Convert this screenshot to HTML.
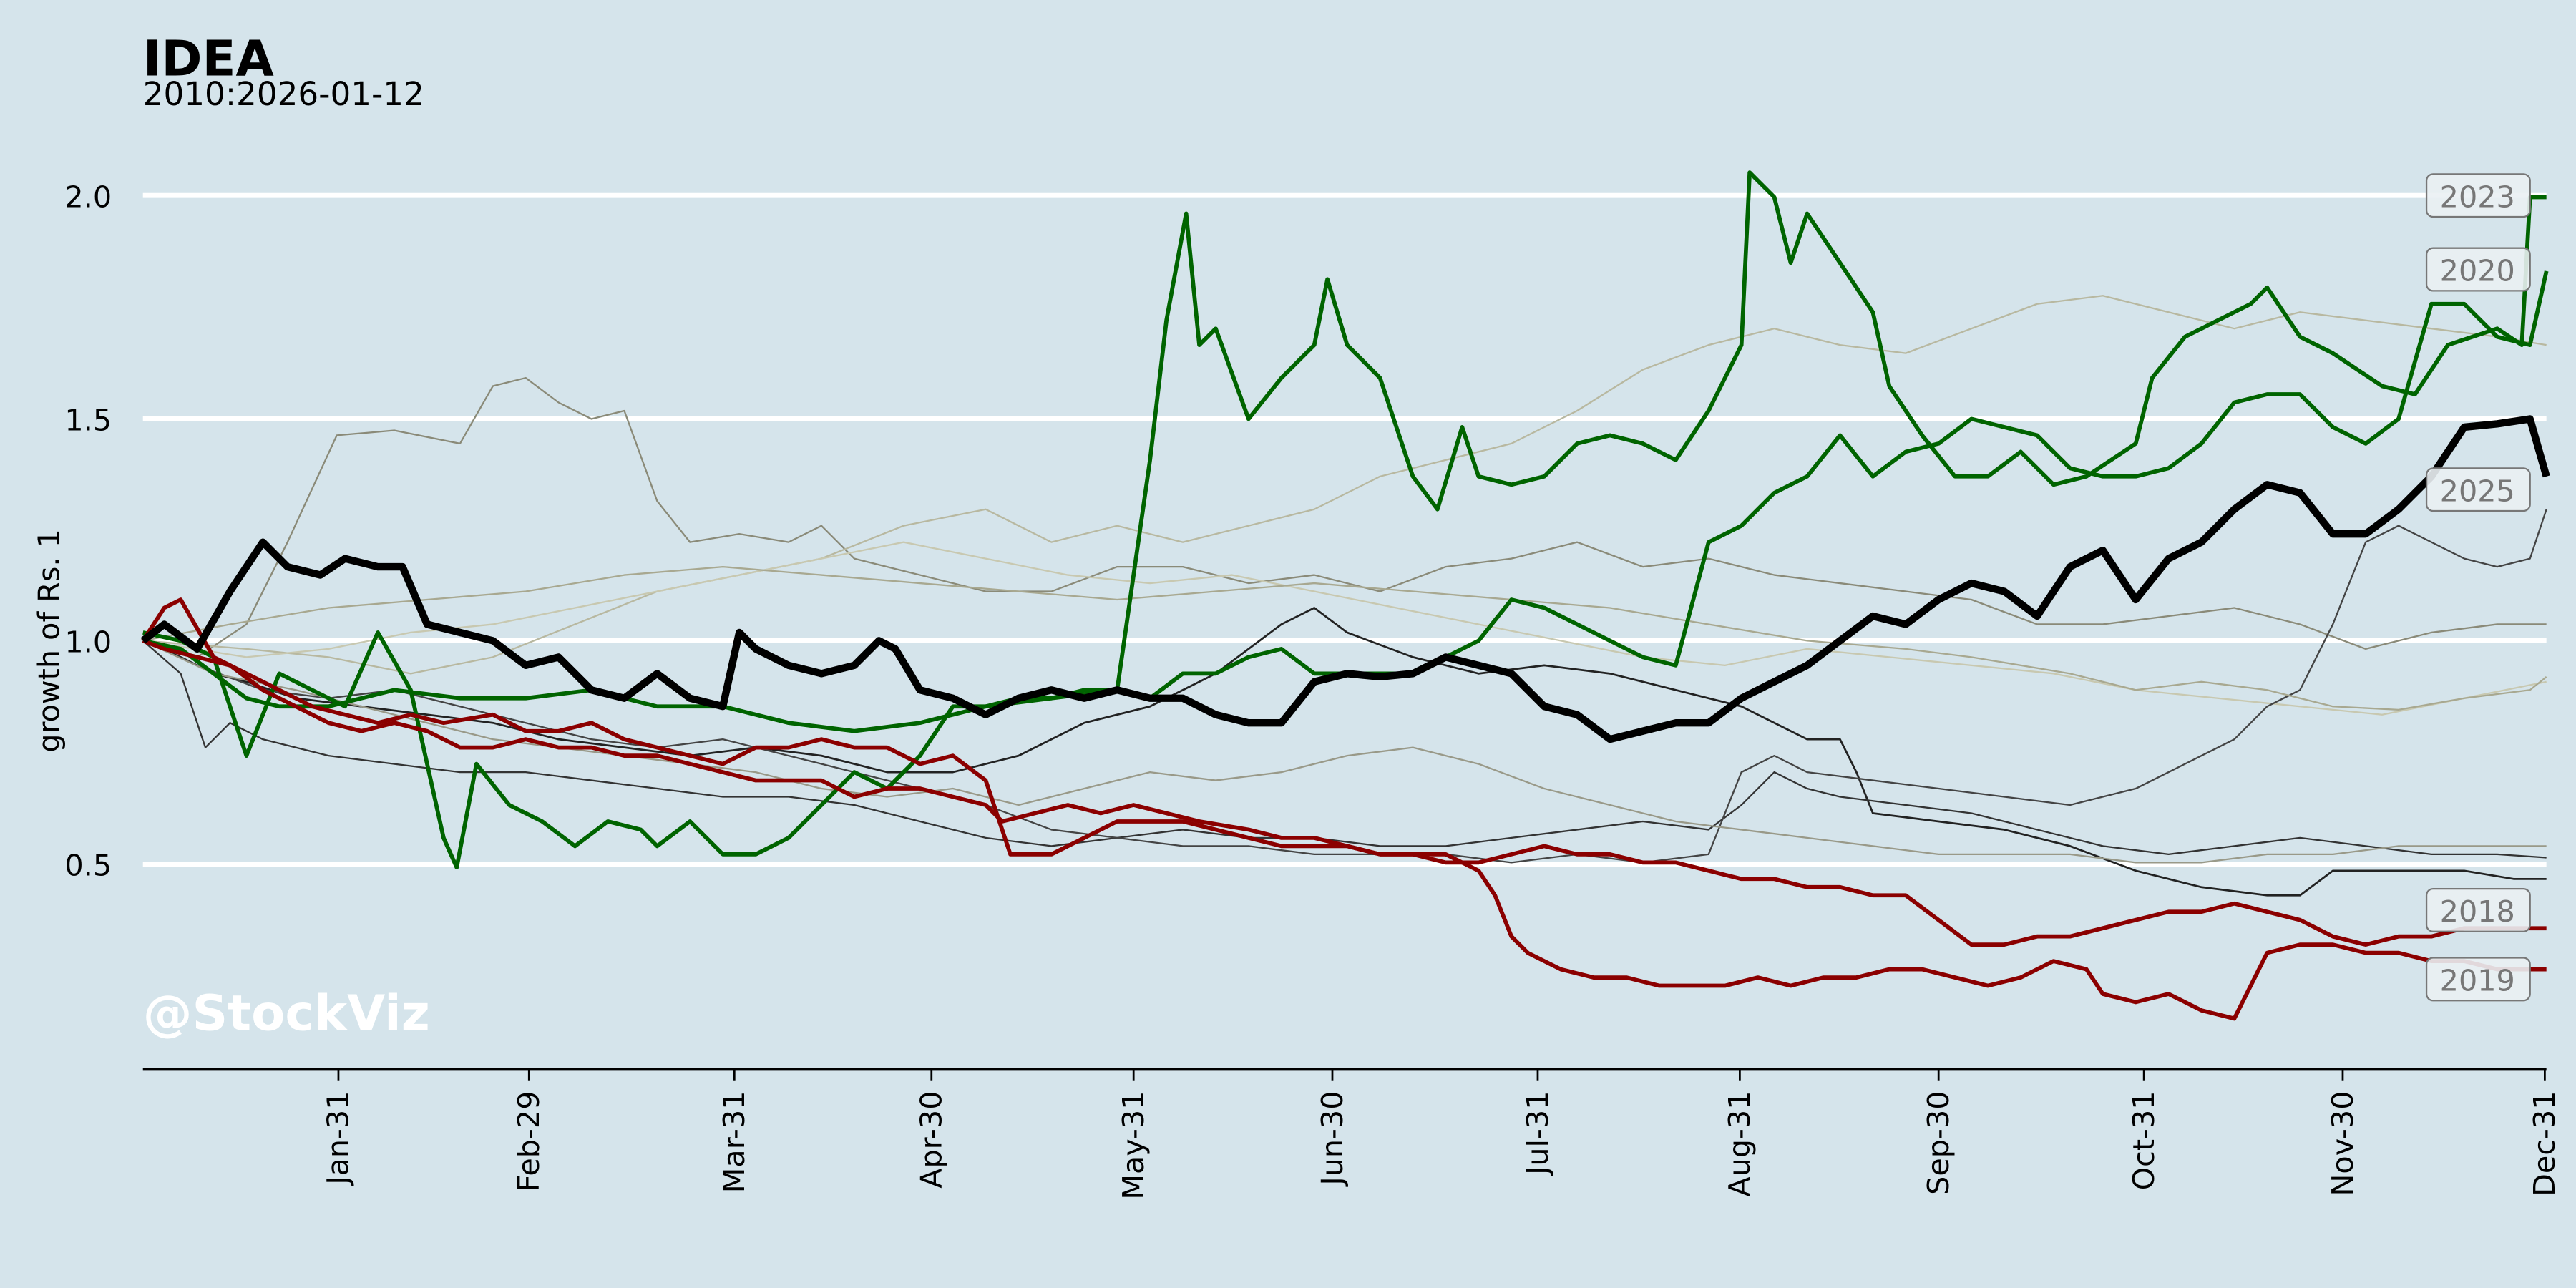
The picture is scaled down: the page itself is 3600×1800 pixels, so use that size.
<!DOCTYPE html>
<html><head><meta charset="utf-8"><style>
html,body{margin:0;padding:0;background:#d5e4eb;}
svg{display:block;font-family:"DejaVu Sans","Liberation Sans",sans-serif;}
</style></head><body>
<svg width="3600" height="1800" viewBox="0 0 1568 784" xmlns="http://www.w3.org/2000/svg">
<rect width="1568" height="784" fill="#d5e4eb"/>
<text x="87" y="46" font-size="30" font-weight="bold">IDEA</text>
<text x="87" y="64" font-size="19.7">2010:2026-01-12</text>
<g stroke="#fff" stroke-width="3">
<line x1="87" y1="119" x2="1550" y2="119"/><line x1="87" y1="255" x2="1550" y2="255"/>
<line x1="87" y1="390" x2="1550" y2="390"/><line x1="87" y1="526" x2="1550" y2="526"/>
</g>
<g font-size="18" text-anchor="end"><text x="68" y="126">2.0</text><text x="68" y="262">1.5</text><text x="68" y="397">1.0</text><text x="68" y="533">0.5</text></g>
<text transform="translate(36,390) rotate(-90)" font-size="18" text-anchor="middle">growth of Rs. 1</text>
<text x="87" y="627" font-size="30" font-weight="bold" fill="#fff">@StockViz</text>
<g fill="none" stroke-linejoin="round">
<polyline stroke="#8a8a78" stroke-width="1" points="87,390 120,400 150,380 175,330 205,265 240,262 280,270 300,235 320,230 340,245 360,255 380,250 400,305 420,330 450,325 480,330 500,320 520,340 560,350 600,360 640,360 680,345 720,345 760,355 800,350 840,360 880,345 920,340 960,330 1000,345 1040,340 1080,350 1120,355 1160,360 1200,365 1240,380 1280,380 1320,375 1360,370 1400,380 1440,395 1480,385 1520,380 1550,380"/>
<polyline stroke="#b8b8a0" stroke-width="1" points="87,390 150,395 200,400 250,410 300,400 350,380 400,360 450,350 500,340 550,320 600,310 640,330 680,320 720,330 760,320 800,310 840,290 880,280 920,270 960,250 1000,225 1040,210 1080,200 1120,210 1160,215 1200,200 1240,185 1280,180 1320,190 1360,200 1400,190 1440,195 1480,200 1520,205 1550,210"/>
<polyline stroke="#c8c8b0" stroke-width="1" points="87,390 150,400 200,395 250,385 300,380 350,370 400,360 450,350 500,340 550,330 600,340 650,350 700,355 750,350 800,360 850,370 900,380 950,390 1000,400 1050,405 1100,395 1150,400 1200,405 1250,410 1300,420 1350,425 1400,430 1450,435 1500,425 1550,415"/>
<polyline stroke="#222" stroke-width="1.2" points="87,390 110,400 130,410 150,415 180,425 220,430 260,435 300,440 340,450 380,455 420,460 460,455 500,460 540,470 580,470 620,460 660,440 700,430 740,410 780,380 800,370 820,385 860,400 900,410 940,405 980,410 1020,420 1060,430 1100,450 1120,450 1130,470 1140,495 1180,500 1220,505 1260,515 1300,530 1340,540 1380,545 1400,545 1420,530 1460,530 1500,530 1530,535 1550,535"/>
<polyline stroke="#333" stroke-width="1" points="87,390 110,410 125,455 140,440 160,450 200,460 240,465 280,470 320,470 360,475 400,480 440,485 480,485 520,490 560,500 600,510 640,515 680,510 720,505 760,510 800,510 840,515 880,515 920,510 960,505 1000,500 1040,505 1060,490 1080,470 1100,480 1120,485 1160,490 1200,495 1240,505 1280,515 1320,520 1360,515 1400,510 1440,515 1480,520 1520,520 1550,522"/>
<polyline stroke="#444" stroke-width="1" points="87,390 120,405 160,420 200,425 240,420 280,430 320,440 360,450 400,455 440,450 480,460 520,470 560,480 600,490 640,505 680,510 720,515 760,515 800,520 840,520 880,520 920,525 960,520 1000,525 1040,520 1060,470 1080,460 1100,470 1140,475 1180,480 1220,485 1260,490 1300,480 1320,470 1360,450 1380,430 1400,420 1420,380 1440,330 1460,320 1480,330 1500,340 1520,345 1540,340 1550,310"/>
<polyline stroke="#999988" stroke-width="1" points="87,390 130,410 180,420 220,430 260,440 300,450 340,455 380,460 420,465 460,470 500,480 540,485 580,480 620,490 660,480 700,470 740,475 780,470 820,460 860,455 900,465 940,480 980,490 1020,500 1060,505 1100,510 1140,515 1180,520 1220,520 1260,520 1300,525 1340,525 1380,520 1420,520 1460,515 1500,515 1550,515"/>
<polyline stroke="#a8a890" stroke-width="1" points="87,390 140,380 200,370 260,365 320,360 380,350 440,345 500,350 560,355 620,360 680,365 740,360 800,355 860,360 920,365 980,370 1040,380 1100,390 1160,395 1200,400 1260,410 1300,420 1340,415 1380,420 1420,430 1460,432 1500,425 1540,420 1550,412"/>
<polyline stroke="#006400" stroke-width="2.5" points="87,390 110,395 130,410 150,425 170,430 200,430 240,420 280,425 320,425 360,420 400,430 440,430 480,440 520,445 560,440 600,430 640,425 680,420 700,280 710,195 722,130 730,210 740,200 760,255 780,230 800,210 808,170 820,210 840,230 860,290 875,310 890,260 900,290 920,295 940,290 960,270 980,265 1000,270 1020,280 1040,250 1060,210 1065,105 1080,120 1090,160 1100,130 1120,160 1140,190 1150,235 1170,265 1190,290 1210,290 1230,275 1250,295 1270,290 1300,270 1310,230 1330,205 1350,195 1370,185 1380,175 1400,205 1420,215 1450,235 1470,240 1490,210 1520,200 1535,210 1540,120 1550,120"/>
<polyline stroke="#006400" stroke-width="2.5" points="87,385 110,390 130,400 150,460 170,410 190,420 210,430 230,385 250,420 270,510 278,528 290,465 310,490 330,500 350,515 370,500 390,505 400,515 420,500 440,520 460,520 480,510 500,490 520,470 540,480 560,460 580,430 600,430 620,425 640,425 660,420 680,420 700,425 720,410 740,410 760,400 780,395 800,410 820,410 840,410 860,410 880,400 900,390 920,365 940,370 960,380 980,390 1000,400 1020,405 1040,330 1060,320 1080,300 1100,290 1120,265 1140,290 1160,275 1180,270 1200,255 1220,260 1240,265 1260,285 1280,290 1300,290 1320,285 1340,270 1360,245 1380,240 1400,240 1420,260 1440,270 1460,255 1480,185 1500,185 1520,205 1540,210 1550,165"/>
<polyline stroke="#8b0000" stroke-width="2.5" points="87,390 100,370 110,365 130,400 150,410 170,420 190,430 210,435 230,440 250,435 270,440 300,435 320,445 340,445 360,440 380,450 400,455 420,460 440,465 460,455 480,455 500,450 520,455 540,455 560,465 580,460 600,475 615,520 640,520 660,510 680,500 700,500 720,500 740,505 760,510 780,515 800,515 820,515 840,520 860,520 880,525 900,525 920,520 940,515 960,520 980,520 1000,525 1020,525 1040,530 1060,535 1080,535 1100,540 1120,540 1140,545 1160,545 1180,560 1200,575 1220,575 1240,570 1260,570 1280,565 1300,560 1320,555 1340,555 1360,550 1380,555 1400,560 1420,570 1440,575 1460,570 1480,570 1500,565 1520,565 1550,565"/>
<polyline stroke="#8b0000" stroke-width="2.5" points="87,390 100,395 120,400 140,405 160,420 180,430 200,440 220,445 240,440 260,445 280,455 300,455 320,450 340,455 360,455 380,460 400,460 420,465 440,470 460,475 480,475 500,475 520,485 540,480 560,480 580,485 600,490 610,500 630,495 650,490 670,495 690,490 710,495 730,500 760,505 780,510 800,510 820,515 840,520 860,520 880,520 900,530 910,545 920,570 930,580 950,590 970,595 990,595 1010,600 1030,600 1050,600 1070,595 1090,600 1110,595 1130,595 1150,590 1170,590 1190,595 1210,600 1230,595 1250,585 1270,590 1280,605 1300,610 1320,605 1340,615 1360,620 1380,580 1400,575 1420,575 1440,580 1460,580 1480,585 1500,585 1520,590 1550,590"/>
<polyline stroke="#000" stroke-width="4.5" points="87,390 100,380 120,395 140,360 160,330 175,345 195,350 210,340 230,345 245,345 260,380 280,385 300,390 320,405 340,400 360,420 380,425 400,410 420,425 440,430 450,385 460,395 480,405 500,410 520,405 535,390 545,395 560,420 580,425 600,435 620,425 640,420 660,425 680,420 700,425 720,425 740,435 760,440 780,440 800,415 820,410 840,412 860,410 880,400 900,405 920,410 940,430 960,435 980,450 1000,445 1020,440 1040,440 1060,425 1080,415 1100,405 1120,390 1140,375 1160,380 1180,365 1200,355 1220,360 1240,375 1260,345 1280,335 1300,365 1320,340 1340,330 1360,310 1380,295 1400,300 1420,325 1440,325 1460,310 1480,290 1500,260 1520,258 1540,255 1550,290"/>
</g>
<g font-size="18" fill="#777" text-anchor="middle">
<rect x="1477" y="106" width="63" height="26" rx="4" fill="#eaf0f3" fill-opacity="0.9" stroke="#777"/><text x="1508" y="126">2023</text>
<rect x="1477" y="151" width="63" height="26" rx="4" fill="#eaf0f3" fill-opacity="0.9" stroke="#777"/><text x="1508" y="171">2020</text>
<rect x="1477" y="285" width="63" height="26" rx="4" fill="#eaf0f3" fill-opacity="0.9" stroke="#777"/><text x="1508" y="305">2025</text>
<rect x="1477" y="541" width="63" height="26" rx="4" fill="#eaf0f3" fill-opacity="0.9" stroke="#777"/><text x="1508" y="561">2018</text>
<rect x="1477" y="583" width="63" height="26" rx="4" fill="#eaf0f3" fill-opacity="0.9" stroke="#777"/><text x="1508" y="603">2019</text>
</g>
<line x1="87" y1="651" x2="1550" y2="651" stroke="#000" stroke-width="1.5"/>
<g stroke="#000" stroke-width="1.2">
<line x1="206" y1="651" x2="206" y2="658"/><line x1="322" y1="651" x2="322" y2="658"/><line x1="447" y1="651" x2="447" y2="658"/><line x1="567" y1="651" x2="567" y2="658"/><line x1="690" y1="651" x2="690" y2="658"/><line x1="811" y1="651" x2="811" y2="658"/><line x1="936" y1="651" x2="936" y2="658"/><line x1="1059" y1="651" x2="1059" y2="658"/><line x1="1180" y1="651" x2="1180" y2="658"/><line x1="1305" y1="651" x2="1305" y2="658"/><line x1="1426" y1="651" x2="1426" y2="658"/><line x1="1549" y1="651" x2="1549" y2="658"/>
</g>
<g font-size="18" text-anchor="end">
<text transform="translate(212,664) rotate(-90)">Jan-31</text>
<text transform="translate(328,664) rotate(-90)">Feb-29</text>
<text transform="translate(453,664) rotate(-90)">Mar-31</text>
<text transform="translate(573,664) rotate(-90)">Apr-30</text>
<text transform="translate(696,664) rotate(-90)">May-31</text>
<text transform="translate(817,664) rotate(-90)">Jun-30</text>
<text transform="translate(942,664) rotate(-90)">Jul-31</text>
<text transform="translate(1065,664) rotate(-90)">Aug-31</text>
<text transform="translate(1186,664) rotate(-90)">Sep-30</text>
<text transform="translate(1311,664) rotate(-90)">Oct-31</text>
<text transform="translate(1432,664) rotate(-90)">Nov-30</text>
<text transform="translate(1555,664) rotate(-90)">Dec-31</text>
</g>
</svg>
</body></html>
